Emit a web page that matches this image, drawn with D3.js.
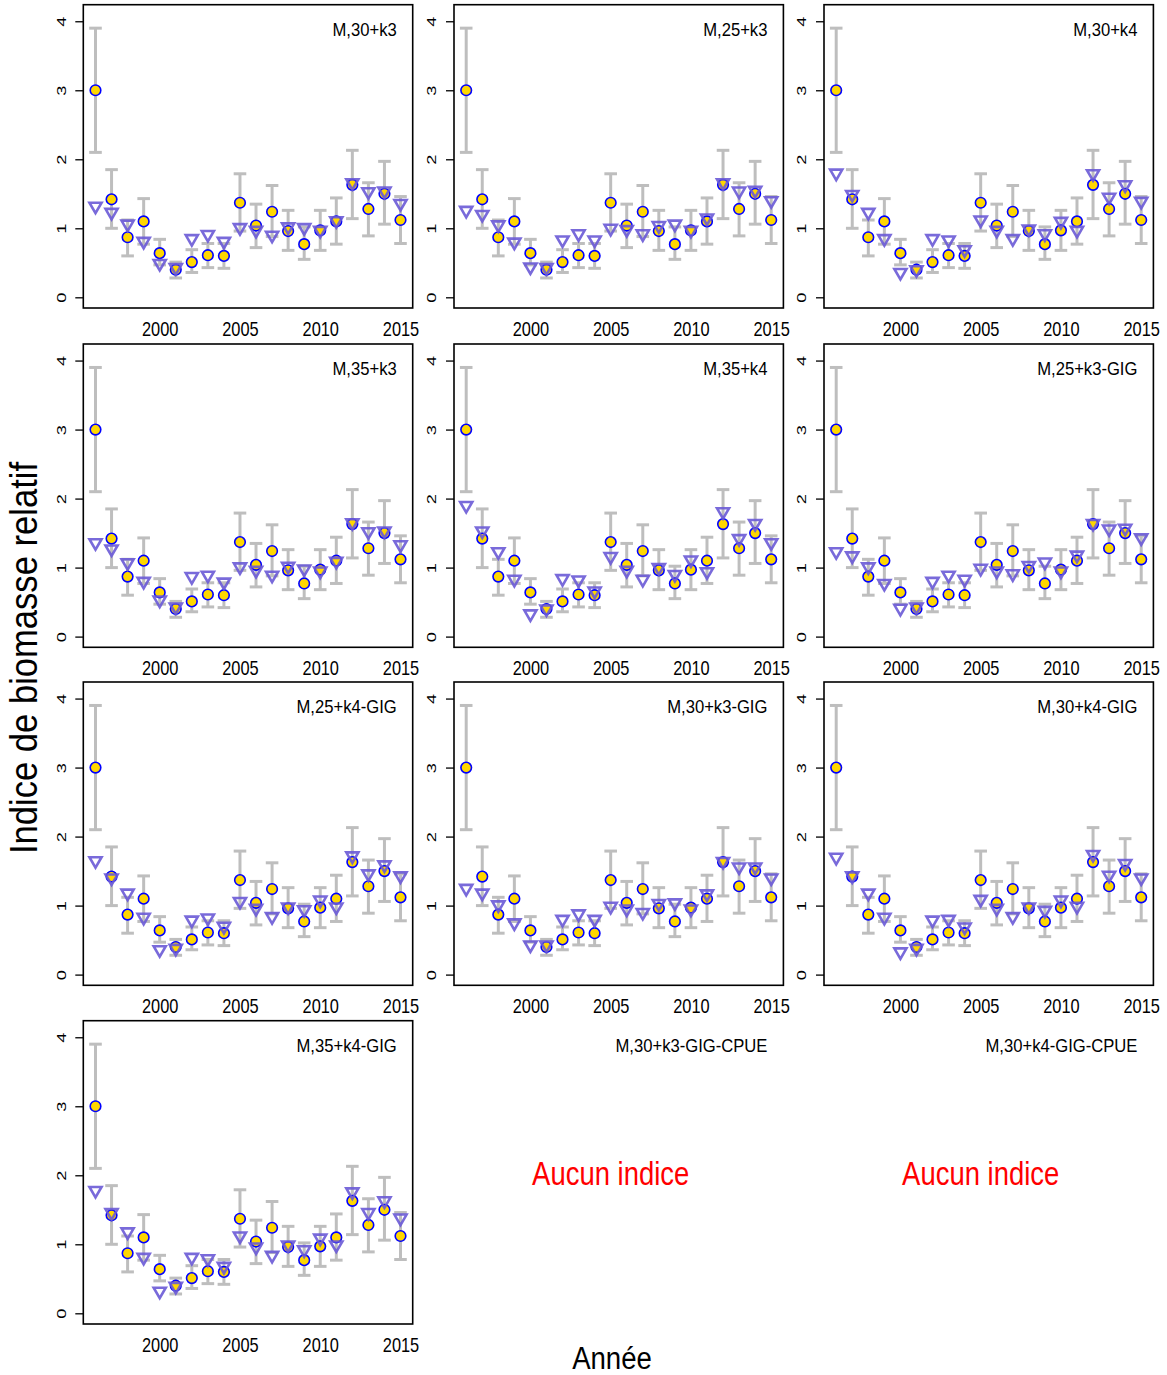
<!DOCTYPE html>
<html><head><meta charset="utf-8">
<script src="https://cdn.jsdelivr.net/npm/d3@7"></script>
<style>body{margin:0;background:#fff} svg{display:block}</style>
</head><body><svg id="c" width="1167" height="1375"></svg>
<script>
const years = [1996,1997,1998,1999,2000,2001,2002,2003,2004,2005,2006,2007,2008,2009,2010,2011,2012,2013,2014,2015];
const observed = [3.00,1.42,0.87,1.10,0.64,0.40,0.51,0.61,0.60,1.37,1.04,1.24,0.96,0.77,0.97,1.10,1.63,1.28,1.50,1.12];
const upperCI  = [3.90,1.85,1.12,1.43,0.84,0.51,0.69,0.78,0.78,1.79,1.35,1.62,1.26,1.02,1.26,1.44,2.13,1.66,1.97,1.46];
const lowerCI  = [2.10,1.00,0.60,0.77,0.47,0.28,0.36,0.43,0.42,0.96,0.72,0.88,0.68,0.55,0.68,0.77,1.14,0.89,1.06,0.78];

const pred_M30k3     = [1.32,1.23,1.06,0.81,0.49,0.43,0.85,0.91,0.81,1.01,0.97,0.90,1.02,1.01,0.97,1.11,1.66,1.53,1.54,1.36];
const pred_M25k3     = [1.26,1.20,1.05,0.80,0.44,0.43,0.83,0.92,0.83,1.00,0.98,0.92,1.04,1.06,0.97,1.15,1.66,1.54,1.55,1.40];
const pred_M30k4     = [1.80,1.49,1.23,0.85,0.36,0.40,0.85,0.83,0.69,1.12,0.97,0.85,0.99,0.92,1.10,0.97,1.79,1.45,1.63,1.39];
const pred_M35k3     = [1.36,1.27,1.07,0.80,0.53,0.43,0.87,0.89,0.79,1.01,0.96,0.89,1.02,0.98,0.95,1.09,1.65,1.52,1.53,1.33];
const pred_M35k4     = [1.90,1.53,1.23,0.83,0.33,0.40,0.84,0.82,0.66,1.16,0.96,0.83,1.00,0.90,1.11,0.94,1.81,1.42,1.64,1.36];
const pred_M25k3GIG  = [1.23,1.17,1.01,0.77,0.41,0.43,0.80,0.89,0.83,0.99,0.95,0.91,1.03,1.08,0.95,1.18,1.64,1.56,1.57,1.43];
const pred_M25k4GIG  = [1.65,1.40,1.18,0.83,0.36,0.38,0.79,0.82,0.70,1.06,0.96,0.84,0.98,0.94,1.08,0.98,1.72,1.46,1.59,1.43];
const pred_M30k3GIG  = [1.25,1.18,1.01,0.75,0.43,0.43,0.80,0.88,0.80,0.99,0.95,0.90,1.03,1.04,0.95,1.17,1.64,1.56,1.56,1.40];
const pred_M30k4GIG  = [1.70,1.43,1.18,0.83,0.33,0.38,0.79,0.80,0.69,1.09,0.96,0.84,0.98,0.93,1.08,0.99,1.74,1.44,1.61,1.40];
const pred_M35k4GIG  = [1.78,1.46,1.18,0.81,0.32,0.39,0.81,0.79,0.68,1.12,0.96,0.84,0.99,0.92,1.09,0.99,1.76,1.46,1.63,1.38];

const panelTitles = ["M,30+k3","M,25+k3","M,30+k4","M,35+k3","M,35+k4","M,25+k3-GIG","M,25+k4-GIG","M,30+k3-GIG","M,30+k4-GIG","M,35+k4-GIG","M,30+k3-GIG-CPUE","M,30+k4-GIG-CPUE"];
const panelPreds = [pred_M30k3,pred_M25k3,pred_M30k4,pred_M35k3,pred_M35k4,pred_M25k3GIG,pred_M25k4GIG,pred_M30k3GIG,pred_M30k4GIG,pred_M35k4GIG,null,null];
const yTicks = [0,1,2,3,4];
const xTicks = [2000,2005,2010,2015];
const noIndexText = "Aucun indice";
const yTitle = "Indice de biomasse relatif";
const xTitle = "Année";

const FONT = "'Liberation Sans', Arial, Helvetica, sans-serif";
const svg = d3.select('#c').style('font-family', FONT);
const colLeft = [83.3, 454, 824];
const rowTop = [4.7, 344, 682, 1020.7];
const W = 329.4, H = 303.3;
const x = d3.scaleLinear().domain([1995.24, 2015.76]).range([0, W]);
const y = d3.scaleLinear().domain([-0.155, 4.24]).range([H, 0]);

function triPath(cx, cy) {
  const k = 4.5, xc = 1.347*k, r = 1.555*k, yc = 0.778*k;
  return `M${cx-xc},${cy-yc}L${cx+xc},${cy-yc}L${cx},${cy+r}Z`;
}

panelTitles.forEach((title, i) => {
  const col = i % 3, row = Math.floor(i / 3);
  const g = svg.append('g').attr('transform', `translate(${colLeft[col]},${rowTop[row]})`);
  const pred = panelPreds[i];

  g.append('text')
    .attr('transform', `translate(${W-16},31.3) scale(0.94,1)`)
    .attr('text-anchor','end').attr('font-size', 17.7).attr('fill','#000')
    .text(title);

  if (!pred) {
    g.append('text')
      .attr('transform', `translate(${W/2 - 8},${H/2 + 13}) scale(0.82,1)`)
      .attr('text-anchor','middle').attr('font-size', 33.5).attr('fill','#ff0000')
      .text(noIndexText);
    return;
  }

  // y axis
  const ya = g.append('g').call(d3.axisLeft(y).tickValues(yTicks).tickSize(8).tickSizeOuter(0).tickFormat(d3.format('d')));
  ya.select('.domain').remove();
  ya.selectAll('.tick line').attr('stroke','#000').attr('stroke-width',1.3);
  ya.selectAll('.tick text')
    .attr('x', null).attr('dy', null).attr('fill','#000')
    .attr('font-family', FONT).attr('font-size', 13.5).attr('text-anchor','middle')
    .attr('transform', 'translate(-17.6,0) rotate(-90) scale(1.35,1)');

  // x axis
  const xa = g.append('g').attr('transform', `translate(0,${H})`)
    .call(d3.axisBottom(x).tickValues(xTicks).tickSize(0).tickFormat(d3.format('d')));
  xa.select('.domain').remove();
  xa.selectAll('.tick line').remove();
  xa.selectAll('.tick text')
    .attr('y', null).attr('dy', null).attr('fill','#000')
    .attr('font-family', FONT).attr('font-size', 20).attr('text-anchor','middle')
    .attr('transform', 'translate(0,28) scale(0.82,1)');

  // error bars
  const eb = g.append('g').attr('stroke','#bebebe').attr('stroke-width',3).attr('fill','none');
  years.forEach((yr, j) => {
    const cx = x(yr);
    eb.append('line').attr('x1',cx).attr('x2',cx).attr('y1',y(lowerCI[j])).attr('y2',y(upperCI[j]));
    eb.append('line').attr('x1',cx-6.3).attr('x2',cx+6.3).attr('y1',y(lowerCI[j])).attr('y2',y(lowerCI[j]));
    eb.append('line').attr('x1',cx-6.3).attr('x2',cx+6.3).attr('y1',y(upperCI[j])).attr('y2',y(upperCI[j]));
  });

  // observed
  g.append('g').selectAll('circle').data(years).join('circle')
    .attr('cx', d => x(d)).attr('cy', (d,j) => y(observed[j])).attr('r', 5.3)
    .attr('fill','#ffd700').attr('stroke','#0000ff').attr('stroke-width',1.6);

  // predicted
  g.append('g').selectAll('path').data(years).join('path')
    .attr('d', (d,j) => triPath(x(d), y(pred[j])))
    .attr('fill','none').attr('stroke','#6a5ad6').attr('stroke-width',2.6)
    .attr('stroke-opacity',0.9).attr('stroke-linejoin','miter');

  // box
  g.append('rect').attr('x',0).attr('y',0).attr('width',W).attr('height',H)
    .attr('fill','none').attr('stroke','#000').attr('stroke-width',1.6);
});

svg.append('text')
  .attr('transform', 'translate(37,658) rotate(-90) scale(0.91,1)')
  .attr('text-anchor','middle').attr('font-size', 38).attr('fill','#000')
  .text(yTitle);

svg.append('text')
  .attr('transform', 'translate(612,1369) scale(0.89,1)')
  .attr('text-anchor','middle').attr('font-size', 31).attr('fill','#000')
  .text(xTitle);
</script></body></html>
